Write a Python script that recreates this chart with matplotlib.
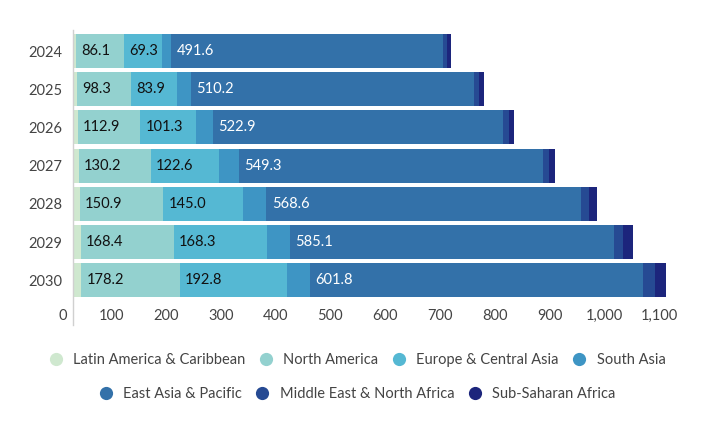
import matplotlib.pyplot as plt
from matplotlib.lines import Line2D

plt.rcParams['font.family'] = ['Lato', 'DejaVu Sans']

years = ['2024', '2025', '2026', '2027', '2028', '2029', '2030']
regions = ['Latin America & Caribbean', 'North America', 'Europe & Central Asia',
           'South Asia', 'East Asia & Pacific', 'Middle East & North Africa',
           'Sub-Saharan Africa']

latin_america = [5.8, 6.4, 8.2, 10.3, 12.0, 13.9, 14.8]
north_america = [86.1, 98.3, 112.9, 130.2, 150.9, 168.4, 178.2]
europe_central_asia = [69.3, 83.9, 101.3, 122.6, 145.0, 168.3, 192.8]
south_asia = [16.0, 25.0, 31.0, 36.0, 41.5, 41.5, 43.0]
east_asia_pacific = [491.6, 510.2, 522.9, 549.3, 568.6, 585.1, 601.8]
middle_east = [7.2, 9.0, 10.8, 12.6, 14.5, 16.3, 21.7]
sub_saharan = [7.2, 9.0, 9.0, 10.8, 14.5, 18.0, 19.9]

xtick_values = [0, 100, 200, 300, 400, 500, 600, 700, 800, 900, 1000, 1100]

colors = ['#cfe8cf', '#93d1cf', '#55b8d3', '#3e95c4', '#3371a9', '#264a93', '#1c257c']
series = [latin_america, north_america, europe_central_asia, south_asia,
          east_asia_pacific, middle_east, sub_saharan]
labelled = {1: '#111111', 2: '#111111', 4: 'white'}

fig = plt.figure(figsize=(7.14, 4.34), dpi=100)
ax = fig.add_axes([73 / 714, 1 - 325 / 434, 627 / 714, 295 / 434])

pos = list(range(len(years)))
left = [0.0] * len(years)
for i, (vals, col) in enumerate(zip(series, colors)):
    ax.barh(pos, vals, left=left, height=0.89, color=col, edgecolor='none')
    if i in labelled:
        for p, l, v in zip(pos, left, vals):
            ax.annotate(f'{v:.1f}', (l, p), xytext=(3.8, 0), textcoords='offset points',
                        ha='left', va='center', fontsize=10.5, color=labelled[i])
    left = [a + b for a, b in zip(left, vals)]

ax.set_yticks(pos)
ax.set_yticklabels(years)

# tick labels in the reference sit a little left of the bar scale
tick_pos = [v * 0.99 - 30 for v in xtick_values[1:]]
ax.set_xticks(tick_pos)
ax.set_xticklabels([f'{v:,}' for v in xtick_values[1:]])
zero = ax.text(-10 / 0.5535, 0, f'{xtick_values[0]}', transform=ax.get_xaxis_transform(),
               ha='center', va='center', fontsize=10.5, color='#444444', clip_on=False)

ax.set_xlim(0, 1133)
ax.set_ylim(7.17, -0.55)

ax.tick_params(axis='y', length=0, pad=7.5, labelsize=10.5, labelcolor='#444444')
ax.tick_params(axis='x', length=0, pad=-11.5, labelsize=10.5, labelcolor='#444444')
for s in ['top', 'right', 'bottom']:
    ax.spines[s].set_visible(False)
ax.spines['left'].set_color('#d0d0d0')
ax.spines['left'].set_linewidth(1)

# put the lone "0" label at the same height as the other x tick labels
fig.canvas.draw()
bb = ax.get_xticklabels()[0].get_window_extent()
yc = (bb.y0 + bb.y1) / 2
zero.set_position((-10 / 0.5535, ax.transAxes.inverted().transform((0, yc))[1]))

def handles(idx):
    return [Line2D([], [], marker='o', linestyle='none', markersize=9.5,
                   markerfacecolor=colors[i], markeredgecolor='none', label=regions[i])
            for i in idx]

for idx, yy in [([0, 1, 2, 3], 1 - 360 / 434), ([4, 5, 6], 1 - 394 / 434)]:
    fig.legend(handles=handles(idx), loc='center', bbox_to_anchor=(0.5, yy),
               ncol=len(idx), frameon=False, fontsize=10.5, handlelength=1.0,
               handletextpad=0.7, columnspacing=0.9, labelcolor='#444444')

fig.savefig('out.png', dpi=100)
